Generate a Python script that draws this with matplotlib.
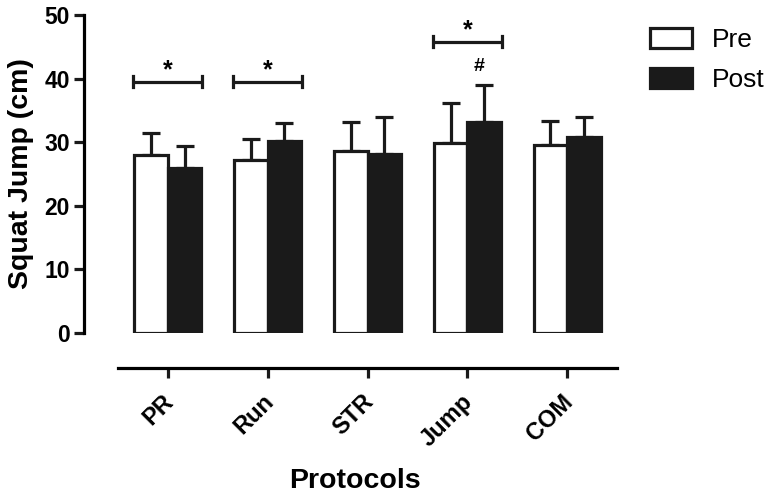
import numpy as np
import matplotlib
matplotlib.use("Agg")
import matplotlib.pyplot as plt
from matplotlib.transforms import ScaledTranslation

plt.rcParams['font.family'] = ['Liberation Sans', 'DejaVu Sans']

# data
protocols = ["PR", "Run", "STR", "Jump", "COM"]
pre_mean = [28.0, 27.2, 28.6, 29.9, 29.6]
pre_sd = [3.4, 3.3, 4.6, 6.3, 3.8]
post_mean = [25.9, 30.2, 28.1, 33.2, 30.8]
post_sd = [3.5, 2.8, 5.8, 5.8, 3.2]

# significance brackets: group index, bracket height, star height
bracket_groups = [0, 1, 3]
bracket_y = [39.5, 39.5, 45.8]
star_y = [41.3, 41.3, 47.6]
# '#' mark over Jump post
hash_group = 3
hash_y = 40.6

x = np.arange(len(protocols))
w = 0.335
lw = 2.3
ink = "#1a1a1a"

fig = plt.figure(figsize=(7.73, 4.94), dpi=100)
ax = fig.add_axes([118 / 773, 1 - 333 / 494, 499 / 773, 318 / 494])

# spines first, moving them resets the tick setup
for s in ["top", "right"]:
    ax.spines[s].set_visible(False)
ax.spines["left"].set_position(("outward", 24.5))
ax.spines["bottom"].set_position(("outward", 25.2))
ax.spines["left"].set_linewidth(lw)
ax.spines["bottom"].set_linewidth(lw)

ax.bar(x - w / 2, pre_mean, w, color="white", edgecolor=ink, linewidth=lw,
       label="Pre", zorder=2)
ax.bar(x + w / 2, post_mean, w, color=ink, edgecolor=ink, linewidth=lw,
       label="Post", zorder=2)
ax.errorbar(x - w / 2, pre_mean, yerr=[np.zeros(len(x)), pre_sd], fmt="none",
            ecolor=ink, elinewidth=lw, capsize=6.5, capthick=lw, zorder=1)
ax.errorbar(x + w / 2, post_mean, yerr=[np.zeros(len(x)), post_sd], fmt="none",
            ecolor=ink, elinewidth=lw, capsize=6.5, capthick=lw, zorder=1)

for g, by, sy in zip(bracket_groups, bracket_y, star_y):
    x0, x1 = g - w - 0.01, g + w + 0.01
    ax.plot([x0, x1], [by, by], color=ink, lw=lw, solid_capstyle="butt")
    ax.plot([x0, x0], [by - 0.85, by + 0.85], color=ink, lw=lw)
    ax.plot([x1, x1], [by - 0.85, by + 0.85], color=ink, lw=lw)
    ax.text(g, sy, "*", ha="center", va="center", fontsize=18, fontweight="bold")
ax.text(hash_group + w / 2 - 0.05, hash_y, "#", ha="center", va="bottom",
        fontsize=14, fontweight="bold")

ax.set_xlim(-0.5, len(protocols) - 0.5)
ax.set_ylim(0, 50)
ax.set_yticks(np.arange(0, 51, 10))
ax.set_xticks(x)
ax.tick_params(axis="both", width=lw, length=7, color=ink)
ax.tick_params(axis="y", pad=3, labelsize=16.5)
ax.tick_params(axis="x", pad=9)
ax.set_xticklabels(protocols, rotation=45, ha="right", rotation_mode="anchor",
                   fontsize=17, fontweight="bold")
shift = ScaledTranslation(-6 / 100, 0, fig.dpi_scale_trans)
for lab in ax.get_xticklabels():
    lab.set_transform(lab.get_transform() + shift)
for lab in ax.get_yticklabels():
    lab.set_fontweight("bold")

ax.set_ylabel("Squat Jump (cm)", fontsize=20.5, fontweight="bold")
ax.yaxis.set_label_coords(-0.168, 0.5)
ax.set_xlabel("Protocols", fontsize=20.5, fontweight="bold")
ax.xaxis.set_label_coords(0.475, -0.425)

ax.legend(loc="upper left", bbox_to_anchor=(650 / 773, 1 - 28 / 494),
          bbox_transform=fig.transFigure, frameon=False, fontsize=19,
          borderpad=0, borderaxespad=0,
          handlelength=1.6, handleheight=0.77, handletextpad=0.75,
          labelspacing=0.6)

fig.savefig("out.png", dpi=100)
